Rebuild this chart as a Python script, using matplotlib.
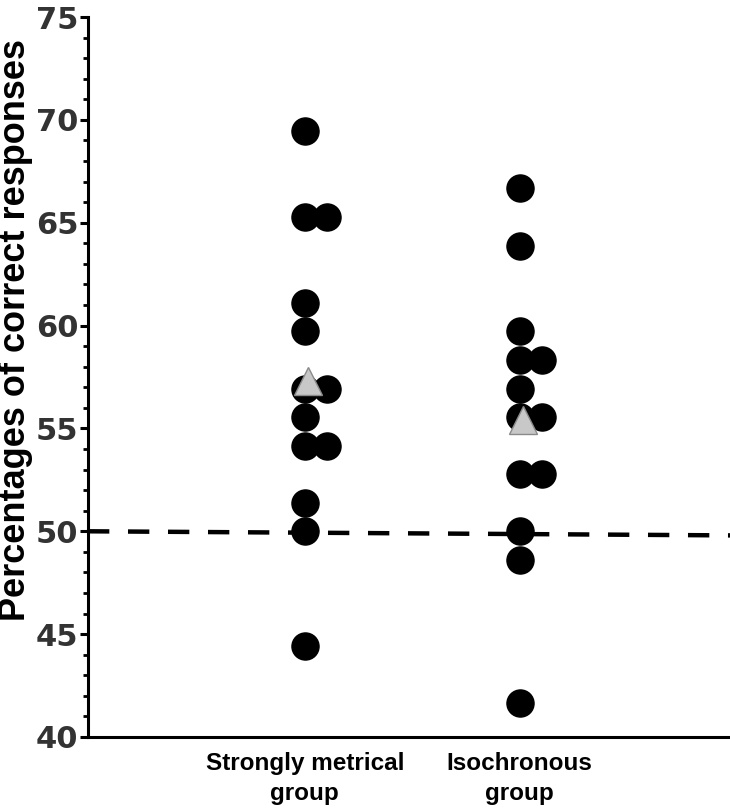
import numpy as np
import matplotlib.pyplot as plt
from matplotlib.ticker import MultipleLocator

# data: percentages of correct responses (out of 72 trials)
metrical_left = [69.44, 65.28, 61.11, 59.72, 56.94, 55.56, 54.17, 51.39, 50.00, 44.44]
metrical_right = [65.28, 56.94, 54.17]
isochron_left = [66.67, 63.89, 59.72, 58.33, 56.94, 55.56, 52.78, 50.00, 48.61, 41.67]
isochron_right = [58.33, 55.56, 52.78]
group_means = [57.3, 55.4]
group_labels = ['Strongly metrical\ngroup', 'Isochronous\ngroup']
chance = [50.0, 49.8]

fig = plt.figure(figsize=(7.3, 8.11), dpi=100)
ax = fig.add_axes([88/730, 74/811, 642/730, 720/811])

pos = [1, 2]
off = 0.105
dot = dict(marker='o', ms=19.5, color='black', ls='none', zorder=3)
ax.plot([pos[0]]*len(metrical_left), metrical_left, **dot)
ax.plot([pos[0]+off]*len(metrical_right), metrical_right, **dot)
ax.plot([pos[1]]*len(isochron_left), isochron_left, **dot)
ax.plot([pos[1]+off]*len(isochron_right), isochron_right, **dot)
ax.plot([p + 0.015 for p in pos], group_means, marker='^', ms=20, ls='none',
        mfc='#c8c8c8', mec='#8a8a8a', mew=1, zorder=4)

ax.plot([-0.01, 2.98], chance, color='black', lw=3.2, ls=(0, (4.8, 4.2)), zorder=2)

ax.set_xlim(-0.01, 2.98)
ax.set_ylim(40, 75)
ax.yaxis.set_major_locator(MultipleLocator(5))
ax.yaxis.set_minor_locator(MultipleLocator(1))
ax.tick_params(axis='y', which='major', length=6, width=2.2, labelsize=22,
               labelcolor='#333333', pad=1)
ax.tick_params(axis='y', which='minor', length=3.5, width=2)
for t in ax.get_yticklabels():
    t.set_fontweight('bold')
ax.set_xticks(pos)
ax.set_xticklabels(group_labels, fontsize=17.5, fontweight='bold',
                   family='Liberation Sans', linespacing=1.4)
ax.tick_params(axis='x', length=0, pad=11)

for s in ['top', 'right']:
    ax.spines[s].set_visible(False)
ax.spines['left'].set_linewidth(2.2)
ax.spines['bottom'].set_linewidth(2.2)

fig.text(16/730, 1 - 330/811, 'Percentages of correct responses', rotation=90,
         ha='center', va='center', fontsize=26, fontweight='bold',
         family='Liberation Sans')

fig.savefig('out.png', dpi=100)
